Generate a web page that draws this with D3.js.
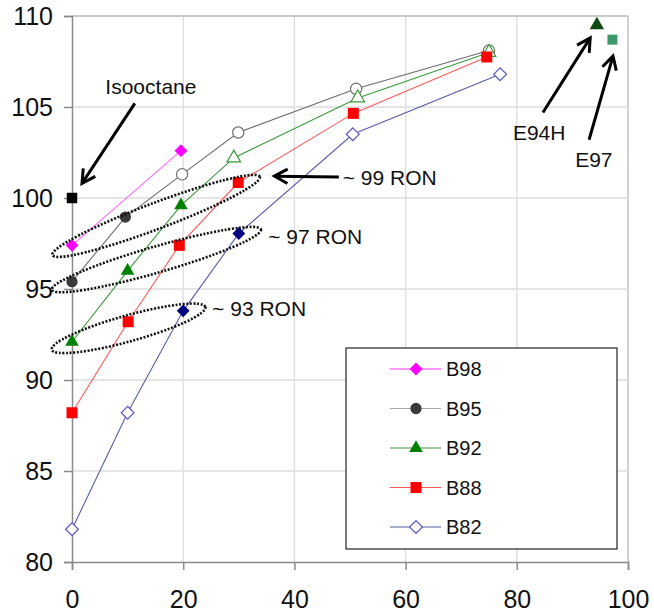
<!DOCTYPE html>
<html>
<head>
<meta charset="utf-8">
<script src="https://cdn.jsdelivr.net/npm/d3@7"></script>
<style>
  body { margin: 0; background: #fff; }
  text { font-family: "Liberation Sans", Arial, sans-serif; fill: #111; }
</style>
</head>
<body>
<div id="chart"></div>
<script>
// series values (x = % blend, y = octane number)
var seriesNames = ["B98", "B95", "B92", "B88", "B82"]
var b98X = [0, 19.6]
var b98Y = [97.4, 102.6]
var b98Filled = [1, 1]
var b95X = [0, 9.6, 19.8, 29.9, 51.1, 75]
var b95Y = [95.4, 98.95, 101.3, 103.6, 106.0, 108.1]
var b95Filled = [1, 1, 0, 0, 0, 0]
var b92X = [0, 10, 19.6, 29.1, 51.4, 75]
var b92Y = [92.1, 96.0, 99.6, 102.2, 105.5, 108.0]
var b92Filled = [1, 1, 1, 0, 0, 0]
var b88X = [0, 10.1, 19.3, 29.9, 50.6, 74.6]
var b88Y = [88.2, 93.2, 97.4, 100.85, 104.65, 107.75]
var b88Filled = [1, 1, 1, 1, 1, 1]
var b82X = [0, 10, 20, 30, 50.5, 77]
var b82Y = [81.8, 88.2, 93.8, 98.05, 103.5, 106.8]
var b82Filled = [0, 0, 1, 1, 0, 0]

var isooctane = [0, 100.0]
var e94h = [94.4, 109.5]
var e97 = [97.2, 108.7]

var xTicks = [0, 20, 40, 60, 80, 100]
var yTicks = [80, 85, 90, 95, 100, 105, 110]

// RON groups: which points (series, index) are circled
var ronLabels = ["~ 99 RON", "~ 97 RON", "~ 93 RON"]
var ronMembers = [
  [["B98", 0], ["B88", 3]],
  [["B95", 0], ["B82", 3]],
  [["B92", 0], ["B82", 2]]
]
var ronLabelPos = [[48.7, 100.7], [35.3, 97.5], [25.2, 93.5]]

var W = 654, H = 616
var svg = d3.select("#chart").append("svg").attr("width", W).attr("height", H)

var x = d3.scaleLinear().domain([0, 100]).range([72, 628])
var y = d3.scaleLinear().domain([80, 110]).range([562, 16])

var series = [
  {name: "B98", xs: b98X, ys: b98Y, filled: b98Filled, line: "#ff66ff", fill: "#ff00ff", open: "#ff00ff", shape: "diamond", legLine: "#ff33ff"},
  {name: "B95", xs: b95X, ys: b95Y, filled: b95Filled, line: "#6e6e6e", fill: "#3a3a3a", open: "#707070", shape: "circle", legLine: "#aaaaaa"},
  {name: "B92", xs: b92X, ys: b92Y, filled: b92Filled, line: "#3a9a3a", fill: "#008000", open: "#3a9a3a", shape: "triangle", legLine: "#3a9a3a"},
  {name: "B88", xs: b88X, ys: b88Y, filled: b88Filled, line: "#ff5a5a", fill: "#ff0000", open: "#ff0000", shape: "square", legLine: "#ff5a5a"},
  {name: "B82", xs: b82X, ys: b82Y, filled: b82Filled, line: "#5a5aa8", fill: "#000080", open: "#5a5ac0", shape: "odiamond", legLine: "#5a5aa8"}
]

function symPath(shape) {
  if (shape == "circle") return d3.symbol(d3.symbolCircle, 100)()
  if (shape == "triangle") return d3.symbol(d3.symbolTriangle, 80)()
  if (shape == "square") return d3.symbol(d3.symbolSquare, 121)()
  return d3.symbol(d3.symbolSquare, 82)()  // diamond = rotated square
}
function symRot(shape) { return (shape == "diamond" || shape == "odiamond") ? " rotate(45)" : "" }

// grid
var grid = svg.append("g")
grid.selectAll(".gx").data(xTicks.slice(1)).enter().append("line")
  .attr("x1", d => x(d)).attr("x2", d => x(d)).attr("y1", y(110)).attr("y2", y(80))
  .attr("stroke", d => d == 100 ? "#b8b8b8" : "#dcdcdc").attr("stroke-width", 1.3)
grid.selectAll(".gy").data(yTicks.slice(1)).enter().append("line")
  .attr("x1", x(0)).attr("x2", x(100)).attr("y1", d => y(d)).attr("y2", d => y(d))
  .attr("stroke", d => d == 110 ? "#b8b8b8" : "#dcdcdc").attr("stroke-width", 1.3)

// axes
var xAxis = svg.append("g").attr("transform", "translate(0," + y(80) + ")")
  .call(d3.axisBottom(x).tickValues(xTicks).tickSize(8).tickPadding(20).tickFormat(d3.format("d")))
var yAxis = svg.append("g").attr("transform", "translate(" + x(0) + ",0)")
  .call(d3.axisLeft(y).tickValues(yTicks).tickSize(8).tickPadding(11).tickFormat(d3.format("d")))
svg.selectAll(".domain").attr("stroke", "#8a8a8a").attr("stroke-width", 1.5)
svg.selectAll(".tick line").attr("stroke", "#8a8a8a").attr("stroke-width", 1.5)
svg.selectAll(".tick text").style("font-size", "25px").attr("fill", "#111")
  .style("font-family", "'Liberation Sans', Arial, sans-serif")

// series lines
var line = d3.line().x(d => x(d[0])).y(d => y(d[1]))
series.forEach(function(s) {
  var pts = s.xs.map((v, i) => [v, s.ys[i]])
  svg.append("path").datum(pts).attr("d", line)
    .attr("fill", "none").attr("stroke", s.line).attr("stroke-width", 1.1)
})

// markers
series.forEach(function(s) {
  var pts = s.xs.map((v, i) => ({x: v, y: s.ys[i], f: s.filled[i]}))
  svg.append("g").selectAll("path").data(pts).enter().append("path")
    .attr("d", symPath(s.shape))
    .attr("transform", d => "translate(" + x(d.x) + "," + y(d.y) + ")" + symRot(s.shape))
    .attr("fill", d => d.f ? s.fill : "#fff")
    .attr("stroke", d => d.f ? "none" : s.open)
    .attr("stroke-width", 1.2)
})

// single points
svg.append("path").attr("d", d3.symbol(d3.symbolSquare, 110)())
  .attr("transform", "translate(" + x(isooctane[0]) + "," + y(isooctane[1]) + ")").attr("fill", "#000")
svg.append("path").attr("d", d3.symbol(d3.symbolTriangle, 90)())
  .attr("transform", "translate(" + x(e94h[0]) + "," + y(e94h[1]) + ")").attr("fill", "#0b4a12")
svg.append("path").attr("d", d3.symbol(d3.symbolSquare, 100)())
  .attr("transform", "translate(" + x(e97[0]) + "," + y(e97[1]) + ")").attr("fill", "#3c9a6a")

// RON ellipses around grouped points
function ptOf(m) {
  var s = series.filter(t => t.name == m[0])[0]
  return [x(s.xs[m[1]]), y(s.ys[m[1]])]
}
ronMembers.forEach(function(g, i) {
  var a = ptOf(g[0]), b = ptOf(g[1])
  var cx = (a[0] + b[0]) / 2 + 1, cy = (a[1] + b[1]) / 2 + 2
  var len = Math.hypot(b[0] - a[0], b[1] - a[1])
  var ang = Math.atan2(b[1] - a[1], b[0] - a[0]) * 180 / Math.PI
  svg.append("ellipse")
    .attr("cx", 0).attr("cy", 0).attr("rx", len / 2 + 22).attr("ry", 13)
    .attr("transform", "translate(" + cx + "," + cy + ") rotate(" + ang + ")")
    .attr("fill", "none").attr("stroke", "#111").attr("stroke-width", 2.6)
    .attr("stroke-dasharray", "2 1.6")
  svg.append("text").attr("x", x(ronLabelPos[i][0])).attr("y", y(ronLabelPos[i][1]))
    .style("font-size", "21px").text(ronLabels[i])
})

// arrows
function arrow(from, to) {
  var x1 = x(from[0]), y1 = y(from[1]), x2 = x(to[0]), y2 = y(to[1])
  var a = Math.atan2(y2 - y1, x2 - x1), h = 15, sp = 0.5
  svg.append("line").attr("x1", x1).attr("y1", y1).attr("x2", x2).attr("y2", y2)
    .attr("stroke", "#000").attr("stroke-width", 3)
  var p = [[x2 - h * Math.cos(a - sp), y2 - h * Math.sin(a - sp)], [x2, y2],
           [x2 - h * Math.cos(a + sp), y2 - h * Math.sin(a + sp)]]
  svg.append("path").attr("d", d3.line()(p)).attr("fill", "none")
    .attr("stroke", "#000").attr("stroke-width", 3).attr("stroke-linejoin", "miter")
}
arrow([11.3, 105.2], [1.8, 100.8])
arrow([48.0, 101.15], [36.4, 101.2])
arrow([84.7, 104.7], [93.2, 108.8])
arrow([93.0, 103.2], [97.3, 107.8])

svg.append("text").attr("x", x(6.0)).attr("y", y(105.7)).style("font-size", "21px").text("Isooctane")
svg.append("text").attr("x", x(79.3)).attr("y", y(103.2)).style("font-size", "21px").text("E94H")
svg.append("text").attr("x", x(90.5)).attr("y", y(101.7)).style("font-size", "21px").text("E97")

// legend
var leg = svg.append("g")
leg.append("rect").attr("x", 346).attr("y", 348).attr("width", 271).attr("height", 201)
  .attr("fill", "#fff").attr("stroke", "#222").attr("stroke-width", 1.2)
series.forEach(function(s, i) {
  var ly = 369 + i * 39.5
  leg.append("line").attr("x1", 390).attr("x2", 441).attr("y1", ly).attr("y2", ly)
    .attr("stroke", s.legLine).attr("stroke-width", 1.2)
  var f = s.shape == "odiamond" ? 0 : 1
  leg.append("path").attr("d", symPath(s.shape))
    .attr("transform", "translate(416," + ly + ")" + symRot(s.shape))
    .attr("fill", f ? s.fill : "#fff").attr("stroke", f ? "none" : s.open).attr("stroke-width", 1.2)
  leg.append("text").attr("x", 446).attr("y", ly + 7).style("font-size", "20px").text(s.name)
})
</script>
</body>
</html>
